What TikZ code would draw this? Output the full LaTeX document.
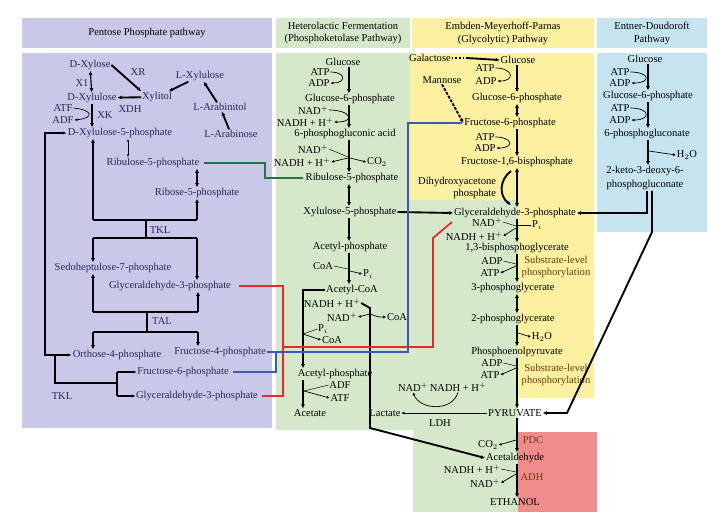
\documentclass[tikz,border=0pt]{standalone}
\usepackage{fontspec}
\setmainfont{Liberation Serif}
\usetikzlibrary{arrows.meta}
\definecolor{ppbg}{RGB}{202,200,232}
\definecolor{hfbg}{RGB}{214,232,202}
\definecolor{embg}{RGB}{250,240,160}
\definecolor{edbg}{RGB}{198,228,240}
\definecolor{etbg}{RGB}{240,140,140}
\definecolor{grline}{RGB}{30,120,60}
\definecolor{rdline}{RGB}{232,40,40}
\definecolor{blline}{RGB}{60,90,180}
\definecolor{navy}{RGB}{40,40,85}
\definecolor{brn}{RGB}{110,60,20}
\begin{document}
\begin{tikzpicture}[x=0.03cm,y=-0.03cm,
  every node/.style={inner sep=0.6pt,font=\fontsize{9}{10}\selectfont},
  main/.style={line width=1.6pt,-{Latex[length=3.5pt,width=3.5pt]}},
  twoway/.style={line width=1.6pt,{Latex[length=3.5pt,width=3.5pt]}-{Latex[length=3.5pt,width=3.5pt]}},
  side/.style={line width=0.6pt,-{Latex[length=2.5pt,width=2.5pt]}},
  bar/.style={line width=1.6pt}]
  \useasboundingbox (0,0) rectangle (725,518);
  \fill[white] (0,0) rectangle (725,518);
  % panels
  \fill[ppbg] (22,18) rectangle (272,48);
  \fill[hfbg] (276,18) rectangle (410,48);
  \fill[embg] (412,18) rectangle (594,48);
  \fill[edbg] (597,18) rectangle (707,48);
  \fill[ppbg] (22,53) rectangle (272,428);
  \fill[hfbg] (276,53) -- (410,53) -- (410,200) -- (518,200) -- (518,430) -- (276,430) -- cycle;
  \fill[hfbg] (413,430) rectangle (518,512);
  \fill[embg] (410,53) -- (594,53) -- (594,398) -- (518,398) -- (518,200) -- (410,200) -- cycle;
  \fill[edbg] (597,53) rectangle (707,232);
  \fill[etbg] (518,432) rectangle (597,512);
  % headers
  \node (hpp) at (147,33) {Pentose Phosphate pathway};
  \node[align=center] (hhf) at (343,33) {Heterolactic Fermentation\\[1pt](Phosphoketolase Pathway)};
  \node[align=center] (hem) at (503,33) {Embden-Meyerhoff-Parnas\\[1pt](Glycolytic) Pathway};
  \node[align=center] (hed) at (652,33) {Entner-Doudoroft\\[1pt]Pathway};

  % pentose phosphate pathway
  \begin{scope}[every node/.append style={text=navy}]
    \node (dxyl) at (90,65) {D-Xylose};
    \node (xr) at (138,72) {XR};
    \node (lxylu) at (200,76) {L-Xylulose};
    \node (xone) at (82,83) {X1};
    \node (dxylu) at (92,98) {D-Xylulose};
    \node (xylt) at (157,97) {Xylitol};
    \node (larbt) at (220,107) {L-Arabinitol};
    \node (xdh) at (130,109) {XDH};
    \node (atfa) at (63,108) {ATF};
    \node (adfa) at (63,120) {ADF};
    \node (xk) at (105,115) {XK};
    \node (larb) at (231,134) {L-Arabinose};
    \node (dx5p) at (120,133) {D-Xylulose-5-phosphate};
    \node (ru5p) at (153,163) {Ribulose-5-phosphate};
    \node (r5p) at (197,193) {Ribose-5-phosphate};
    \node (tkla) at (160,230) {TKL};
    \node (s7p) at (113,268) {Sedoheptulose-7-phosphate};
    \node (gapa) at (170,286) {Glyceraldehyde-3-phosphate};
    \node (tal) at (162,321) {TAL};
    \node (ery4p) at (117,355) {Orthose-4-phosphate};
    \node (f4p) at (220,352) {Fructose-4-phosphate};
    \node (f6pa) at (183,372) {Fructose-6-phosphate};
    \node (gapb) at (197,396) {Glyceraldehyde-3-phosphate};
    \node (tklb) at (62,396) {TKL};
  \end{scope}
  \draw[twoway,line width=1pt] (dxyl) -- (dxylu);
  \draw[main] (dxyl.east) -- (xylt.north west);
  \draw[main] (lxylu) -- (xylt);
  \draw[main] (larbt) -- (lxylu);
  \draw[main] (larb) -- (larbt);
  \draw[main] (xylt) -- (dxylu);
  \draw[main] (dxylu.south) -- (dxylu.south |- dx5p.north);
  \draw[side] (atfa.east) .. controls +(20,2) and +(20,-2) .. (adfa.east);
  \draw[side,{Latex[length=2.5pt]}-{Latex[length=2.5pt]}] (128,0 |- dx5p.south) -- (128,0 |- ru5p.north);
  \draw[twoway] (r5p.north) -- (r5p.north |- ru5p.south);
  \draw[line width=1pt,{Latex[length=3.5pt]}-{Latex[length=3.5pt]}] (dx5p.west) -- (45,0 |- dx5p.west) -- (45,0 |- ery4p.west) -- (ery4p.west);
  % TKL / TAL exchanges
  \draw[bar] (93,220) -- (197,220);
  \draw[main] (93,220) -- (93,0 |- dx5p.south);
  \draw[main] (197,220) -- (r5p.south);
  \draw[bar] (146,220) -- (146,238);
  \draw[bar] (93,238) -- (197,238);
  \draw[main] (93,238) -- (93,0 |- s7p.north);
  \draw[main] (197,238) -- (197,0 |- gapa.north);
  \draw[bar] (93,312) -- (198,312);
  \draw[main] (93,312) -- (93,0 |- s7p.south);
  \draw[main] (198,312) -- (198,0 |- gapa.south);
  \draw[bar] (147,312) -- (147,332);
  \draw[bar] (93,332) -- (198,332);
  \draw[main] (93,332) -- (93,0 |- ery4p.north);
  \draw[main] (198,332) -- (198,0 |- f4p.north);
  \draw[bar,line width=2pt] (55,0 |- ery4p.west) -- (55,383) -- (117,383);
  \draw[line width=1pt] (117,0 |- f6pa.west) -- (117,0 |- gapb.west);
  \draw[side,line width=1pt] (117,0 |- f6pa.west) -- (f6pa.west);
  \draw[side,line width=1pt] (117,0 |- gapb.west) -- (gapb.west);

  % heterolactic fermentation
  \node (hglc) at (343,62) {Glucose};
  \node (hatp) at (320,72) {ATP};
  \node (hadp) at (319,83) {ADP};
  \node (hg6p) at (350,99) {Glucose-6-phosphate};
  \node (hnada) at (313,110) {NAD$^+$};
  \node (hnadha) at (305,122) {NADH + H$^+$};
  \node (h6pg) at (345,134) {6-phosphogluconic acid};
  \node (hnadb) at (313,149) {NAD$^+$};
  \node (hnadhb) at (302,162) {NADH + H$^+$};
  \node (hco2) at (377,162) {CO$_2$};
  \node (hru5p) at (352,178) {Ribulose-5-phosphate};
  \node (hxu5p) at (350,212) {Xylulose-5-phosphate};
  \node (hacp) at (350,247) {Acetyl-phosphate};
  \node (hcoa) at (323,266) {CoA};
  \node (hpi) at (368,274) {P$_i$};
  \node (hacoa) at (352,290) {Acetyl-CoA};
  \node (hnadhc) at (332,303) {NADH + H$^+$};
  \node (hnadc) at (342,317) {NAD$^+$};
  \node (hcoab) at (397,317) {CoA};
  \node (hpib) at (323,329) {P$_i$};
  \node (hcoac) at (332,340) {CoA};
  \node (hacpb) at (335,374) {Acetyl-phosphate};
  \node (hadf) at (340,385) {ADF};
  \node (hatf) at (340,398) {ATF};
  \node (hace) at (310,413) {Acetate};
  \draw[main] (349,0 |- hglc.south) -- (349,0 |- hg6p.north);
  \draw[side] (hatp.east) .. controls +(16,0) and +(16,0) .. (hadp.east);
  \draw[main] (349,0 |- hg6p.south) -- (349,0 |- h6pg.north);
  \draw[side] (hnada.east) .. controls +(22,0) and +(22,0) .. (hnadha.east);
  \draw[main] (349,0 |- h6pg.south) -- (349,0 |- hru5p.north);
  \draw (hnadb.east) -- (348,157);
  \draw[side] (348,158) -- (hnadhb.east);
  \draw[side] (350,158) -- (hco2.west);
  \draw[twoway] (349,0 |- hru5p.south) -- (349,0 |- hxu5p.north);
  \draw[main] (349,0 |- hxu5p.south) -- (349,0 |- hacp.north);
  \draw[main] (349,0 |- hacp.south) -- (349,0 |- hacoa.north);
  \draw (hcoa.east) -- (348,269);
  \draw[side] (350,271) -- (hpi.west);
  \draw[main] (hacoa.west) -- (303,0 |- hacoa.west) -- (303,0 |- hacpb.north);
  \draw (303,334) -- (hpib.west);
  \draw[side] (303,334) -- (hcoac.west);
  \draw[main] (303,0 |- hacpb.south) -- (303,0 |- hace.north);
  \draw (hadf.west) -- (304,391);
  \draw[side] (304,391) -- (hatf.west);

  % glycolysis
  \node (ygal) at (430,58) {Galactose};
  \node (yglc) at (518,60) {Glucose};
  \node (yatpa) at (485,68) {ATP};
  \node (yadpa) at (486,81) {ADP};
  \node (yman) at (442,80) {Mannose};
  \node (yg6p) at (517,98) {Glucose-6-phosphate};
  \node (yf6p) at (510,123) {Fructose-6-phosphate};
  \node (yatpb) at (485,137) {ATP};
  \node (yadpb) at (485,148) {ADP};
  \node (yf16) at (517,162) {Fructose-1,6-bisphosphate};
  \node[align=right,anchor=east] (ydhap) at (497,188) {Dihydroxyacetone\\[1pt]phosphate};
  \node (yg3p) at (515,213) {Glyceraldehyde-3-phosphate};
  \node (ynad) at (487,222) {NAD$^+$};
  \node (ynadh) at (474,236) {NADH + H$^+$};
  \node (ypi) at (537,225) {P$_i$};
  \node (ybpg) at (517,248) {1,3-bisphosphoglycerate};
  \node (yadpc) at (492,261) {ADP};
  \node (yatpc) at (490,273) {ATP};
  \node[align=center,text=brn] (ysla) at (556,267) {Substrate-level\\[1pt]phosphorylation};
  \node (y3pg) at (513,288) {3-phosphoglycerate};
  \node (y2pg) at (513,319) {2-phosphoglycerate};
  \node (yh2o) at (542,337) {H$_2$O};
  \node (ypep) at (517,352) {Phosphoenolpyruvate};
  \node (yadpd) at (492,363) {ADP};
  \node (yatpd) at (490,375) {ATP};
  \node[align=center,text=brn] (yslb) at (556,375) {Substrate-level\\[1pt]phosphorylation};
  \node (ynadb) at (413,387) {NAD$^+$};
  \node (ynadhb) at (458,387) {NADH + H$^+$};
  \node (ypyr) at (515,413) {PYRUVATE};
  \node (ylac) at (385,413) {Lactate};
  \node (yldh) at (440,423) {LDH};
  \node[text=brn] (ypdc) at (533,440) {PDC};
  \node (yco2) at (488,445) {CO$_2$};
  \node (yacal) at (515,458) {Acetaldehyde};
  \node (ynadhc) at (472,469) {NADH + H$^+$};
  \node (ynadc) at (485,483) {NAD$^+$};
  \node[text=brn] (yadh) at (532,477) {ADH};
  \node (yeth) at (515,502) {ETHANOL};
  \coordinate (gdot) at (466,58);
  \draw[dotted,line width=1.2pt] (ygal.east) -- (gdot);
  \draw[main] (gdot) -- (yglc.west);
  \draw[main,dash pattern=on 2.5pt off 1.2pt] (yman.south) -- (yf6p.west);
  \draw[main] (517,0 |- yglc.south) -- (517,0 |- yg6p.north);
  \draw[side] (yatpa.east) .. controls +(18,0) and +(18,0) .. (yadpa.east);
  \draw[twoway] (517,0 |- yg6p.south) -- (517,0 |- yf6p.north);
  \draw[main] (517,0 |- yf6p.south) -- (517,0 |- yf16.north);
  \draw[side] (yatpb.east) .. controls +(18,0) and +(18,0) .. (yadpb.east);
  \draw[twoway] (517,0 |- yf16.south) -- (517,0 |- yg3p.north);
  \draw[main] (511,171) .. controls (499,180) and (499,196) .. (511,205);
  \draw[main] (517,0 |- yg3p.south) -- (517,0 |- ybpg.north);
  \draw (ynad.east) -- (516,226);
  \draw[side] (516,228) -- (ynadh.east);
  \draw (ypi.west) -- (518,225);
  \draw[main] (517,0 |- ybpg.south) -- (517,0 |- y3pg.north);
  \draw (yadpc.east) -- (516,264);
  \draw[side] (516,266) -- (yatpc.east);
  \draw[twoway] (517,0 |- y3pg.south) -- (517,0 |- y2pg.north);
  \draw[main] (517,0 |- y2pg.south) -- (517,0 |- ypep.north);
  \draw[side] (518,333) -- (yh2o.west);
  \draw[main] (517,0 |- ypep.south) -- (517,0 |- ypyr.north);
  \draw (yadpd.east) -- (516,366);
  \draw[side] (516,368) -- (yatpd.east);
  \draw[side] (ynadhb.south) .. controls (452,412) and (420,410) .. (ynadb.south);
  \draw[side,line width=0.8pt] (ypyr.west) -- (ylac.east);
  \draw[main] (517,0 |- ypyr.south) -- (517,0 |- yacal.north);
  \draw[side] (516,440) -- (yco2.east);
  \draw[main] (517,0 |- yacal.south) -- (517,0 |- yeth.north);
  \draw (ynadhc.east) -- (516,472);
  \draw[side] (516,474) -- (ynadc.east);

  % Entner-Doudoroff
  \node (edglc) at (645,59) {Glucose};
  \node (edatpa) at (620,72) {ATP};
  \node (edadpa) at (620,83) {ADP};
  \node (edg6p) at (648,96) {Glucose-6-phosphate};
  \node (edatpb) at (620,108) {ATP};
  \node (edadpb) at (620,120) {ADP};
  \node (ed6pg) at (647,134) {6-phosphogluconate};
  \node (edh2o) at (687,155) {H$_2$O};
  \node[align=center] (edkdpg) at (645,178) {2-keto-3-deoxy-6-\\[2pt]phosphogluconate};
  \draw[main] (648,0 |- edglc.south) -- (648,0 |- edg6p.north);
  \draw[side] (edatpa.east) .. controls +(20,0) and +(20,0) .. (edadpa.east);
  \draw[main] (648,0 |- edg6p.south) -- (648,0 |- ed6pg.north);
  \draw[side] (edatpb.east) .. controls +(20,0) and +(20,0) .. (edadpb.east);
  \draw[main] (648,0 |- ed6pg.south) -- (648,0 |- edkdpg.north);
  \draw[side] (649,151) -- (edh2o.west);

  % links between pathways
  \draw[main] (hxu5p.east) -- (yg3p.west);
  \draw[main] (647,0 |- edkdpg.south) -- (647,0 |- yg3p.east) -- (yg3p.east);
  \draw[main] (652,0 |- edkdpg.south) -- (652,232) -- (567,413) -- (ypyr.east);
  \draw[main] (hnadhc.east) -- (370,308) -- (370,428) -- (yacal.west);
  \draw[side] (370,314) -- (hnadc.east);
  \draw[side] (370,314) .. controls (378,317) .. (hcoab.west);
  \draw[grline,line width=1.5pt,-{Latex[length=3.5pt]},shorten <=3pt] (ru5p.east) -- (265,0 |- ru5p.east) -- (265,0 |- hru5p.west) -- (hru5p.west);
  \draw[rdline,line width=1.5pt,shorten <=6pt,shorten >=3pt] (gapa.east) -- (283,0 |- gapa.east) -- (283,0 |- gapb.east) -- (gapb.east);
  \draw[rdline,line width=1.5pt] (283,347) -- (433,347) -- (433,238) -- (452,222);
  \draw[blline,line width=1pt,-{Latex[length=3pt]}] (f4p.east) -- (408,0 |- f4p.east) -- (408,0 |- yf6p.west) -- (yf6p.west);
  \draw[blline,line width=1pt,shorten <=3pt] (f6pa.east) -- (276,0 |- f6pa.east) -- (276,0 |- f4p.east);
\end{tikzpicture}
\end{document}
